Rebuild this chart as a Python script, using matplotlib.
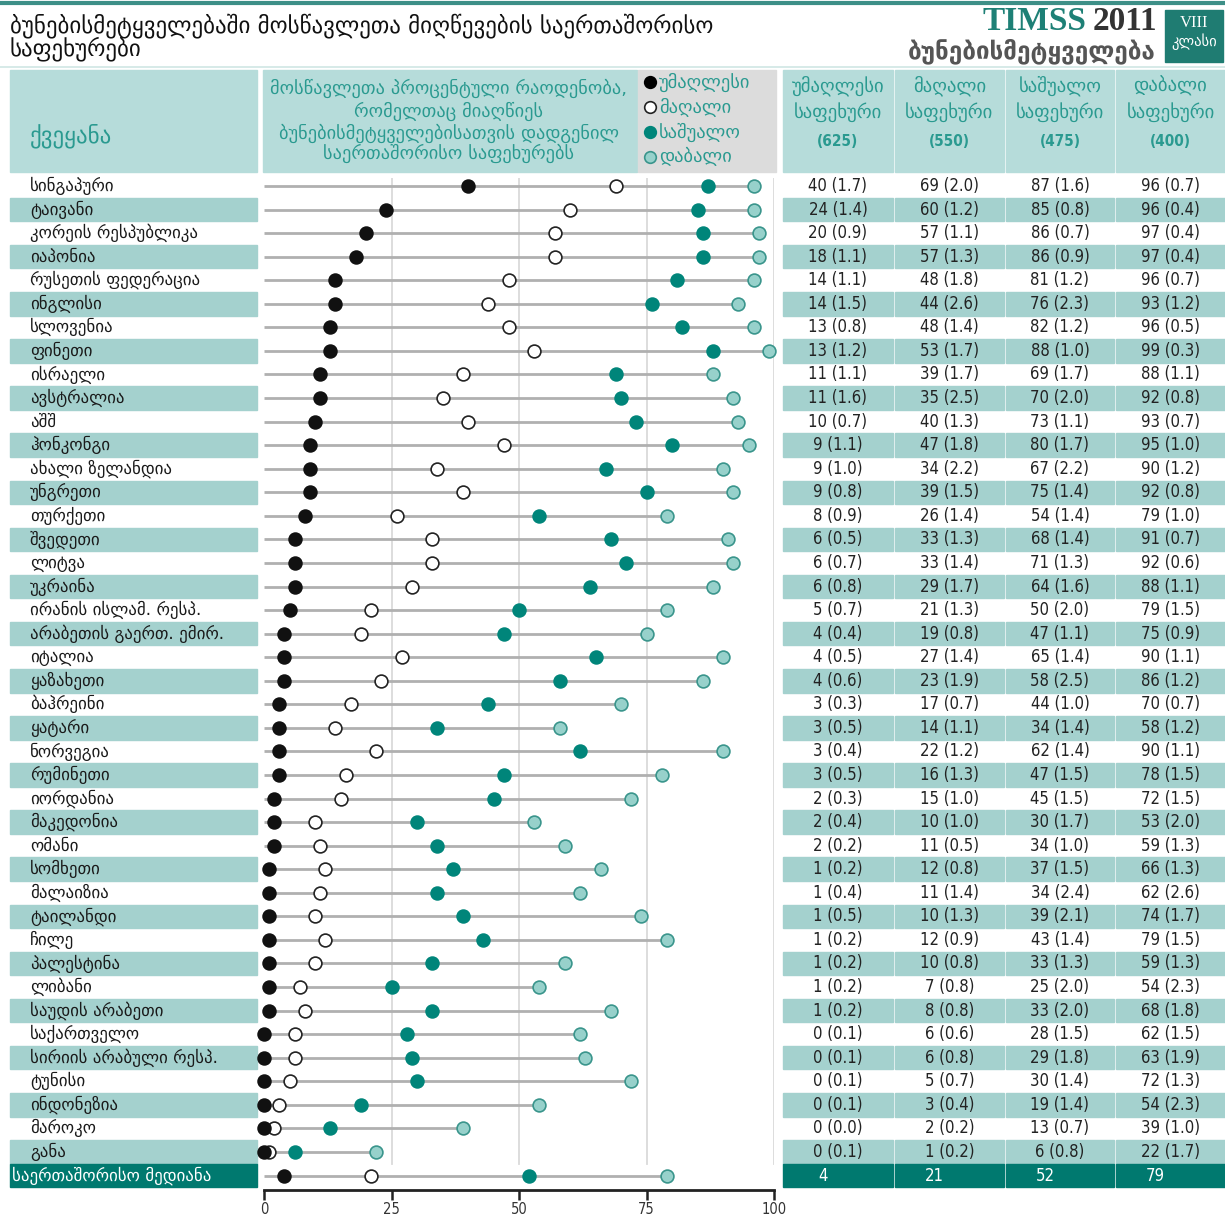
import matplotlib
matplotlib.use("Agg")
import matplotlib.pyplot as plt
from matplotlib.patches import Rectangle
import numpy as np

countries = ["სინგაპური", "ტაივანი", "კორეის რესპუბლიკა", "იაპონია", "რუსეთის ფედერაცია",
             "ინგლისი", "სლოვენია", "ფინეთი", "ისრაელი", "ავსტრალია", "აშშ", "ჰონკონგი",
             "ახალი ზელანდია", "უნგრეთი", "თურქეთი", "შვედეთი", "ლიტვა", "უკრაინა",
             "ირანის ისლამ. რესპ.", "არაბეთის გაერთ. ემირ.", "იტალია", "ყაზახეთი", "ბაჰრეინი",
             "ყატარი", "ნორვეგია", "რუმინეთი", "იორდანია", "მაკედონია", "ომანი", "სომხეთი",
             "მალაიზია", "ტაილანდი", "ჩილე", "პალესტინა", "ლიბანი", "საუდის არაბეთი",
             "საქართველო", "სირიის არაბული რესპ.", "ტუნისი", "ინდონეზია", "მაროკო", "განა"]
advanced = [40, 24, 20, 18, 14, 14, 13, 13, 11, 11, 10, 9, 9, 9, 8, 6, 6, 6, 5, 4, 4, 4, 3, 3, 3, 3,
            2, 2, 2, 1, 1, 1, 1, 1, 1, 1, 0, 0, 0, 0, 0, 0]
advanced_se = [1.7, 1.4, 0.9, 1.1, 1.1, 1.5, 0.8, 1.2, 1.1, 1.6, 0.7, 1.1, 1.0, 0.8, 0.9, 0.5, 0.7, 0.8,
               0.7, 0.4, 0.5, 0.6, 0.3, 0.5, 0.4, 0.5, 0.3, 0.4, 0.2, 0.2, 0.4, 0.5, 0.2, 0.2, 0.2, 0.2,
               0.1, 0.1, 0.1, 0.1, 0.0, 0.1]
high = [69, 60, 57, 57, 48, 44, 48, 53, 39, 35, 40, 47, 34, 39, 26, 33, 33, 29, 21, 19, 27, 23, 17, 14,
        22, 16, 15, 10, 11, 12, 11, 10, 12, 10, 7, 8, 6, 6, 5, 3, 2, 1]
high_se = [2.0, 1.2, 1.1, 1.3, 1.8, 2.6, 1.4, 1.7, 1.7, 2.5, 1.3, 1.8, 2.2, 1.5, 1.4, 1.3, 1.4, 1.7,
           1.3, 0.8, 1.4, 1.9, 0.7, 1.1, 1.2, 1.3, 1.0, 1.0, 0.5, 0.8, 1.4, 1.3, 0.9, 0.8, 0.8, 0.8,
           0.6, 0.8, 0.7, 0.4, 0.2, 0.2]
intermediate = [87, 85, 86, 86, 81, 76, 82, 88, 69, 70, 73, 80, 67, 75, 54, 68, 71, 64, 50, 47, 65, 58,
                44, 34, 62, 47, 45, 30, 34, 37, 34, 39, 43, 33, 25, 33, 28, 29, 30, 19, 13, 6]
intermediate_se = [1.6, 0.8, 0.7, 0.9, 1.2, 2.3, 1.2, 1.0, 1.7, 2.0, 1.1, 1.7, 2.2, 1.4, 1.4, 1.4, 1.3,
                   1.6, 2.0, 1.1, 1.4, 2.5, 1.0, 1.4, 1.4, 1.5, 1.5, 1.7, 1.0, 1.5, 2.4, 2.1, 1.4, 1.3,
                   2.0, 2.0, 1.5, 1.8, 1.4, 1.4, 0.7, 0.8]
low = [96, 96, 97, 97, 96, 93, 96, 99, 88, 92, 93, 95, 90, 92, 79, 91, 92, 88, 79, 75, 90, 86, 70, 58,
       90, 78, 72, 53, 59, 66, 62, 74, 79, 59, 54, 68, 62, 63, 72, 54, 39, 22]
low_se = [0.7, 0.4, 0.4, 0.4, 0.7, 1.2, 0.5, 0.3, 1.1, 0.8, 0.7, 1.0, 1.2, 0.8, 1.0, 0.7, 0.6, 1.1,
          1.5, 0.9, 1.1, 1.2, 0.7, 1.2, 1.1, 1.5, 1.5, 2.0, 1.3, 1.3, 2.6, 1.7, 1.5, 1.3, 2.3, 1.8,
          1.5, 1.9, 1.3, 2.3, 1.0, 1.7]
median_label = "საერთაშორისო მედიანა"
median_vals = [4, 21, 52, 79]
level_names = ["უმაღლესი", "მაღალი", "საშუალო", "დაბალი"]
level_scores = ["(625)", "(550)", "(475)", "(400)"]
xticks = [0, 25, 50, 75, 100]

title = "ბუნებისმეტყველებაში მოსწავლეთა მიღწევების საერთაშორისო\nსაფეხურები"
plot_header = ["მოსწავლეთა პროცენტული რაოდენობა,", "რომელთაც მიაღწიეს",
               "ბუნებისმეტყველებისათვის დადგენილ", "საერთაშორისო საფეხურებს"]

# ---- style ----
W, H = 1225, 1218
SHADE = "#a4d1ce"
HEAD = "#b6dcda"
HEADTXT = "#2a9a90"
DARK = "#00796f"
MID = "#00857a"
LOWF = "#97d1cb"
LOWE = "#3a958c"
GRAY_BG = "#dcdcdc"
GEO = ["DejaVu Sans"]
NUM = dict(family=["DejaVu Sans"], stretch="condensed")

Y0, P = 186.0, 23.56
def ypix(r):
    return Y0 + r * P

fig = plt.figure(figsize=(W / 100, H / 100), dpi=100)
bg = fig.add_axes([0, 0, 1, 1])
bg.set_xlim(0, W)
bg.set_ylim(H, 0)
bg.axis("off")

# top rule
bg.plot([0, W], [3, 3], color="#3d8f87", lw=3, solid_capstyle="butt")
bg.plot([0, W], [67, 67], color="#cfe6e4", lw=1.2)

# title
bg.text(10, 37, title, fontsize=16.5, family=GEO, color="#111", va="center", ha="left", linespacing=0.9)

# TIMSS logo
bg.text(1086, 21, "TIMSS", fontsize=24, family=["Liberation Serif"], weight="bold", color="#1e8076",
        ha="right", va="center")
bg.text(1157, 21, "2011", fontsize=24, family=["Liberation Serif"], weight="bold", color="#333",
        ha="right", va="center")
bg.text(1156, 51, "ბუნებისმეტყველება", fontsize=17.5, family=GEO, weight="bold", color="#555",
        ha="right", va="center")
bg.add_patch(Rectangle((1165, 10), 58, 52, color="#1f7c72"))
bg.text(1194, 23, "VIII", fontsize=12, family=["Liberation Serif"], color="white", ha="center", va="center")
bg.text(1194, 42, "კლასი", fontsize=10.5, family=GEO, color="white", ha="center", va="center")

# header cells
hy0, hy1 = 70, 172
bg.add_patch(Rectangle((10, hy0), 247, hy1 - hy0, color=HEAD))
bg.add_patch(Rectangle((263, hy0), 374, hy1 - hy0, color=HEAD))
bg.add_patch(Rectangle((638, hy0), 138, hy1 - hy0, color=GRAY_BG))
bg.text(30, 136, "ქვეყანა", fontsize=16.5, family=GEO, color=HEADTXT, va="center", ha="left")
for line, yy in zip(plot_header, [88, 111, 133, 153]):
    bg.text(449, yy, line, fontsize=13.2, family=GEO, color=HEADTXT, ha="center", va="center")

cols = [(783, 893), (895, 1004), (1006, 1114), (1116, 1225)]
for (c0, c1), nm, sc in zip(cols, level_names, level_scores):
    bg.add_patch(Rectangle((c0, hy0), c1 - c0, hy1 - hy0, color=HEAD))
    cx = (c0 + c1) / 2
    bg.text(cx, 86, nm, fontsize=13.5, family=GEO, color=HEADTXT, ha="center", va="center")
    bg.text(cx, 112, "საფეხური", fontsize=13.5, family=GEO, color=HEADTXT, ha="center", va="center")
    bg.text(cx, 142, sc, fontsize=11, weight="bold", color=HEADTXT, ha="center", va="center", **NUM)

# rows
n = len(countries)
for i in range(n):
    yc = ypix(i)
    if i % 2 == 1:
        bg.add_patch(Rectangle((10, yc - P / 2), 247, P, color=SHADE))
        for c0, c1 in cols:
            bg.add_patch(Rectangle((c0, yc - P / 2), c1 - c0, P, color=SHADE))
    bg.text(30, yc, countries[i], fontsize=12.2, family=GEO, color="#1a1a1a", ha="left", va="center")
    vals = [(advanced[i], advanced_se[i]), (high[i], high_se[i]),
            (intermediate[i], intermediate_se[i]), (low[i], low_se[i])]
    for (c0, c1), (v, s) in zip(cols, vals):
        bg.text((c0 + c1) / 2, yc, f"{v} ({s:.1f})", fontsize=12, color="#222",
                ha="center", va="center", **NUM)

# median row
ym = ypix(n)
bg.add_patch(Rectangle((10, ym - 11.5), 247, 23, color=DARK))
bg.text(12, ym, median_label, fontsize=12.2, family=GEO, color="white", ha="left", va="center")
for (c0, c1), v in zip(cols, median_vals):
    bg.add_patch(Rectangle((c0, ym - 11.5), c1 - c0, 23, color=DARK))
    bg.text((c0 + c1) / 2 - 15, ym, f"{v}", fontsize=12, color="white",
            ha="center", va="center", **NUM)

# legend
leg_items = [("black", "black"), ("white", "#222"), (MID, MID), (LOWF, LOWE)]
for (fc, ec), nm, yy in zip(leg_items, level_names, [82, 107, 132, 157]):
    bg.scatter([650], [yy], s=70, facecolor=fc, edgecolor=ec, linewidth=1.2, zorder=3)
    bg.text(659, yy, nm, fontsize=13.3, family=GEO, color=HEADTXT, ha="left", va="center")

# ---- dot plot axes ----
ax_top, ax_bot = 178, 1190
ax = fig.add_axes([264 / W, 1 - ax_bot / H, 510 / W, (ax_bot - ax_top) / H])
ax.patch.set_alpha(0)
ax.set_xlim(0, 100)
ax.set_ylim((ax_bot - Y0) / P, (ax_top - Y0) / P)
for sp in ["top", "left", "right"]:
    ax.spines[sp].set_visible(False)
ax.spines["bottom"].set_linewidth(2)
ax.spines["bottom"].set_color("#222")
ax.set_yticks([])
ax.set_xticks(xticks)
ax.set_xticklabels([str(t) for t in xticks], fontsize=10.5, color="#333", **NUM)
ax.tick_params(axis="x", direction="out", length=7, width=1.8, color="#222", pad=2)
for t in [25, 50, 75, 100]:
    ax.plot([t, t], [-0.35, n - 0.5], color="#dadada", lw=1.3, zorder=0)

rows = np.arange(n + 1)
adv_all = advanced + [median_vals[0]]
high_all = high + [median_vals[1]]
mid_all = intermediate + [median_vals[2]]
low_all = low + [median_vals[3]]
ax.hlines(rows, 0, low_all, color="#b0b0b0", lw=2, zorder=1)
ms = 85
ax.scatter(low_all, rows, s=ms, facecolor=LOWF, edgecolor=LOWE, linewidth=1.2, zorder=3, clip_on=False)
ax.scatter(mid_all, rows, s=ms, facecolor=MID, edgecolor=MID, linewidth=1.2, zorder=4, clip_on=False)
ax.scatter(high_all, rows, s=ms, facecolor="white", edgecolor="#222", linewidth=1.2, zorder=5, clip_on=False)
ax.scatter(adv_all, rows, s=ms, facecolor="#111", edgecolor="#111", linewidth=1.2, zorder=6, clip_on=False)

fig.savefig("out.png", dpi=100)
